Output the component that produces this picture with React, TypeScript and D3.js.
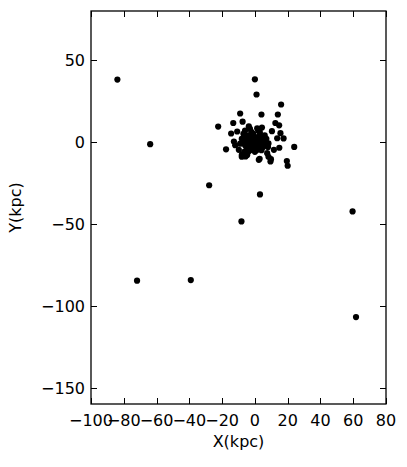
import * as d3 from "d3";
import { useRef, useEffect } from "react";

// positions in kpc
const xKpc = [
  -83.9, -63.9, -27.9, 3.1, -8.2, 59.6, -71.9, -39.1, 61.7, 0, 1, 16, -9, 4, 14,
  -22.4, -13.2, -7.5, 12.5, 14.8, 10.4, -14.5, 4.3, 17.5, 24, -17.6, -12, 14.9, 19.5, 20,
  2.9, 8.3, 9.8, -8, -10.8, -3.7, 1.4, 15.6, -12.8, -5.7, -4.7, -5.7, 2.4, 7.5, 9.5,
  11.6, 6.5, 13.6, -9.8, 8.3, -7.6, -8, -6.5,
  -2, -1, 0, 1, -3, -4, 2, 3, -1, 0, -5, 4, -2, 1, -3, 5, -6, -4, 2, 3, -1, 0, 5, -6,
  -2, 4, 6, -3, 1, -1, 2, -5, 3, -7, 0, -2, 1, 6, -4, 4, -8, -7, 7, -9, 8, -3, 2, -6,
];
const yKpc = [
  38.1, -1.3, -26.4, -32.0, -48.5, -42.4, -84.7, -84.3, -106.9, 38.3, 29, 22.9, 17.4, 16.8, 16.8,
  9.4, 11.6, 12.4, 11.6, 10.2, 6.6, 5.2, 8.8, 2.2, -3, -4.5, -2, -3.5, -11.6, -14.5,
  -10.3, -9, -10.5, -8, 6.4, 9.5, 8.4, 5.4, 0.3, -5.8, -7.9, -8.8, -10.9, -6.8, -11.9,
  -4.8, 0.3, 2.3, -4.8, -0.9, -7.6, -9, -6,
  0, 1, -1, 0, 2, -1, 3, -2, -3, 3, 1, 1, -4, -5, -5, -3, 3, 4, -3, 4, 5, -6, 2, -2,
  6, -5, -1, -2, 2, -1, -1, -4, 6, 0, 1, 2, -2, 4, -6, -1, 2, 5, 2, -1, -3, 8, 7, 7,
];
const xTicks = [-100, -80, -60, -40, -20, 0, 20, 40, 60, 80];
const yTicks = [-150, -100, -50, 0, 50];

export default function App() {
  const svgRef = useRef<SVGSVGElement>(null);

  useEffect(() => {
    const W = 407, H = 467;
    const left = 91, right = 386, top = 11, bottom = 404;
    const svg = d3.select(svgRef.current);
    svg.selectAll("*").remove();

    const x = d3.scaleLinear().domain([-100, 80]).range([left, right]);
    const y = d3.scaleLinear().domain([-160, 80]).range([bottom, top]);
    const fmt = (v: number) => String(v).replace("-", "\u2212");

    svg.attr("width", W).attr("height", H);
    svg.append("rect").attr("width", W).attr("height", H).attr("fill", "white");

    const pts = xKpc.map((v, i) => [v, yKpc[i]]);
    svg.append("g")
      .selectAll("circle")
      .data(pts)
      .enter()
      .append("circle")
      .attr("cx", (d) => x(d[0]))
      .attr("cy", (d) => y(d[1]))
      .attr("r", 3.1)
      .attr("fill", "black");

    const tk = 6;
    const axes = svg.append("g").attr("stroke", "black").attr("stroke-width", 1);
    xTicks.forEach((t) => {
      const px = Math.round(x(t)) + 0.5;
      axes.append("line").attr("x1", px).attr("x2", px).attr("y1", bottom).attr("y2", bottom - tk);
      axes.append("line").attr("x1", px).attr("x2", px).attr("y1", top).attr("y2", top + tk);
    });
    yTicks.forEach((t) => {
      const py = Math.round(y(t)) + 0.5;
      axes.append("line").attr("x1", left).attr("x2", left + tk).attr("y1", py).attr("y2", py);
      axes.append("line").attr("x1", right).attr("x2", right - tk).attr("y1", py).attr("y2", py);
    });
    svg.append("rect")
      .attr("x", left).attr("y", top)
      .attr("width", right - left).attr("height", bottom - top)
      .attr("fill", "none").attr("stroke", "black").attr("stroke-width", 1.3);

    const font = "DejaVu Sans, sans-serif";
    svg.append("g")
      .selectAll("text")
      .data(xTicks)
      .enter()
      .append("text")
      .attr("x", (d) => x(d))
      .attr("y", bottom + 22)
      .attr("text-anchor", "middle")
      .attr("font-family", font)
      .attr("font-size", 16)
      .text(fmt);
    svg.append("g")
      .selectAll("text")
      .data(yTicks)
      .enter()
      .append("text")
      .attr("x", left - 6)
      .attr("y", (d) => y(d) + 6)
      .attr("text-anchor", "end")
      .attr("font-family", font)
      .attr("font-size", 16)
      .text(fmt);

    svg.append("text")
      .attr("x", (left + right) / 2)
      .attr("y", 447)
      .attr("text-anchor", "middle")
      .attr("font-family", font)
      .attr("font-size", 16)
      .text("X(kpc)");
    svg.append("text")
      .attr("transform", `translate(21,${(top + bottom) / 2}) rotate(-90)`)
      .attr("text-anchor", "middle")
      .attr("font-family", font)
      .attr("font-size", 16)
      .text("Y(kpc)");
  }, []);

  return (
    <div style={{ position: "absolute", left: 0, top: 0 }}>
      <svg ref={svgRef} style={{ display: "block" }}></svg>
    </div>
  );
}
